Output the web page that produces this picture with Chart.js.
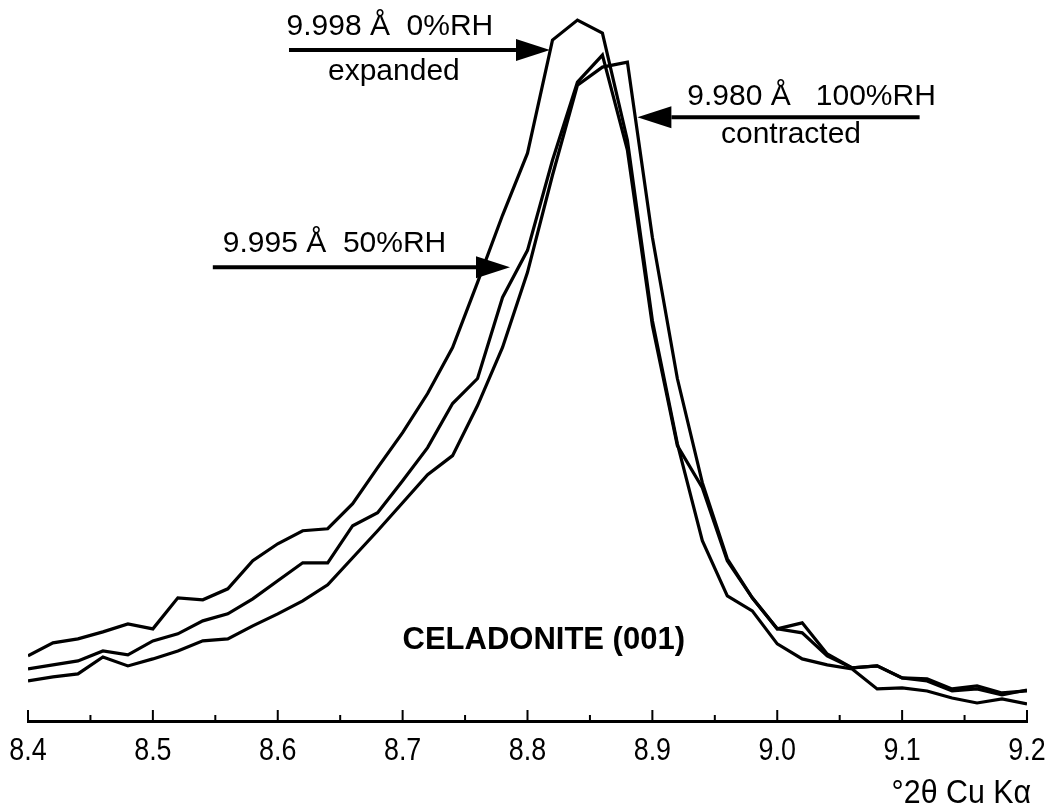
<!doctype html>
<html>
  <head>
    <title>Celadonite (001)</title>
    <script src="https://cdn.jsdelivr.net/npm/chart.js@4/dist/chart.umd.min.js"></script>
    <style>
      body { margin: 0; background: #fff; }
    </style>
  </head>
  <body>
    <canvas id="xrdChart" width="1047" height="807"></canvas>
    <script>
      // degrees 2-theta, one step every 0.02
      var two_theta = [
        8.40, 8.42, 8.44, 8.46, 8.48, 8.50, 8.52, 8.54, 8.56, 8.58,
        8.60, 8.62, 8.64, 8.66, 8.68, 8.70, 8.72, 8.74, 8.76, 8.78,
        8.80, 8.82, 8.84, 8.86, 8.88, 8.90, 8.92, 8.94, 8.96, 8.98,
        9.00, 9.02, 9.04, 9.06, 9.08, 9.10, 9.12, 9.14, 9.16, 9.18, 9.20,
      ];

      // intensities (arbitrary units)
      var rh0 = [
        65, 78, 82, 89, 97, 92, 123, 121, 132, 160,
        177, 190, 192, 217, 253, 288, 327, 373, 438, 505,
        567, 680, 700, 687, 580, 400, 277, 180, 125, 110,
        77, 62, 56, 52, 32, 33, 30, 23, 18, 22, 17,
      ];
      var rh50 = [
        52, 56, 60, 70, 66, 80, 87, 100, 107, 122,
        140, 158, 158, 195, 208, 240, 273, 317, 342, 423,
        470, 560, 638, 665, 570, 395, 275, 233, 160, 123,
        92, 98, 67, 53, 55, 43, 42, 32, 35, 28, 30,
      ];
      var rh100 = [
        40, 44, 47, 64, 55, 62, 70, 80, 82, 95,
        107, 120, 136, 163, 190, 218, 246, 265, 315, 373,
        448, 545, 635, 653, 658, 483, 342, 238, 162, 123,
        92, 88, 65, 53, 55, 43, 40, 30, 32, 26, 31,
      ];

      var x_ticks = [8.4, 8.5, 8.6, 8.7, 8.8, 8.9, 9.0, 9.1, 9.2];
      var x_title = "\u00b02\u03b8 Cu K\u03b1";

      var text_font = "'Liberation Sans', Arial, sans-serif";

      function to_points(values) {
        return values.map(function (v, i) {
          return { x: two_theta[i], y: v };
        });
      }

      function line_set(label, values) {
        return {
          label: label,
          data: to_points(values),
          borderColor: "#000",
          borderWidth: 3.2,
          pointRadius: 0,
          tension: 0,
          fill: false,
        };
      }

      function draw_arrow(ctx, x0, x1, y) {
        var dir = x1 > x0 ? 1 : -1;
        var head = 34;
        ctx.lineWidth = 4;
        ctx.beginPath();
        ctx.moveTo(x0, y);
        ctx.lineTo(x1 - dir * head, y);
        ctx.stroke();
        ctx.beginPath();
        ctx.moveTo(x1, y);
        ctx.lineTo(x1 - dir * head, y - 11);
        ctx.lineTo(x1 - dir * head, y + 11);
        ctx.closePath();
        ctx.fill();
      }

      // the axis text in the original is a narrow face, squeeze it a bit
      function narrow_text(ctx, str, x, y, align, squeeze) {
        ctx.save();
        ctx.translate(x, y);
        ctx.scale(squeeze, 1);
        ctx.textAlign = align;
        ctx.fillText(str, 0, 0);
        ctx.restore();
      }

      var annotations = {
        id: "annotations",
        afterDraw: function (chart) {
          var ctx = chart.ctx;
          var xs = chart.scales.x;
          var ys = chart.scales.y;
          var bottom = chart.chartArea.bottom;
          ctx.save();
          ctx.strokeStyle = "#000";
          ctx.fillStyle = "#000";

          // tick marks point up from the axis, minor ones half way between labels
          ctx.lineWidth = 2;
          xs.ticks.forEach(function (t, i) {
            var px = xs.getPixelForTick(i);
            ctx.beginPath();
            ctx.moveTo(px, bottom);
            ctx.lineTo(px, bottom - 11);
            ctx.stroke();
            if (i < xs.ticks.length - 1) {
              var mx = xs.getPixelForValue((t.value + xs.ticks[i + 1].value) / 2);
              ctx.beginPath();
              ctx.moveTo(mx, bottom);
              ctx.lineTo(mx, bottom - 6);
              ctx.stroke();
            }
          });

          // tick labels and axis title
          ctx.font = "32px " + text_font;
          ctx.textBaseline = "alphabetic";
          xs.ticks.forEach(function (t, i) {
            narrow_text(ctx, t.value.toFixed(1), xs.getPixelForTick(i), bottom + 39, "center", 0.84);
          });
          ctx.font = "33px " + text_font;
          narrow_text(ctx, x_title, xs.right + 4, bottom + 82, "right", 0.92);

          // arrows, placed in data units
          draw_arrow(ctx, xs.getPixelForValue(8.609), xs.getPixelForValue(8.818), ys.getPixelForValue(670));
          draw_arrow(ctx, xs.getPixelForValue(8.548), xs.getPixelForValue(8.786), ys.getPixelForValue(453));
          draw_arrow(ctx, xs.getPixelForValue(9.114), xs.getPixelForValue(8.888), ys.getPixelForValue(603));

          ctx.font = "30px " + text_font;
          ctx.textAlign = "left";
          ctx.fillText("9.998 \u00c5  0%RH", xs.getPixelForValue(8.607), ys.getPixelForValue(685));
          ctx.fillText("9.995 \u00c5  50%RH", xs.getPixelForValue(8.556), ys.getPixelForValue(468));
          ctx.fillText("9.980 \u00c5   100%RH", xs.getPixelForValue(8.928), ys.getPixelForValue(615));
          ctx.textAlign = "center";
          ctx.fillText("expanded", xs.getPixelForValue(8.693), ys.getPixelForValue(640));
          ctx.fillText("contracted", xs.getPixelForValue(9.011), ys.getPixelForValue(577));

          ctx.font = "bold 31px " + text_font;
          ctx.fillText("CELADONITE (001)", xs.getPixelForValue(8.813), ys.getPixelForValue(72));
          ctx.restore();
        },
      };

      var ctx = document.getElementById("xrdChart").getContext("2d");
      var xrdChart = new Chart(ctx, {
        type: "line",
        data: {
          datasets: [
            line_set("0%RH", rh0),
            line_set("50%RH", rh50),
            line_set("100%RH", rh100),
          ],
        },
        options: {
          responsive: false,
          animation: false,
          devicePixelRatio: 1,
          layout: { padding: { left: 28, right: 20, top: 0, bottom: 0 } },
          plugins: {
            legend: { display: false },
            tooltip: { enabled: false },
          },
          scales: {
            x: {
              type: "linear",
              min: 8.4,
              max: 9.2,
              afterBuildTicks: function (scale) {
                scale.ticks = x_ticks.map(function (v) {
                  return { value: v };
                });
              },
              afterFit: function (scale) {
                scale.height = 86;
                scale.paddingLeft = 0;
                scale.paddingRight = 0;
              },
              ticks: { display: false },
              grid: { display: true, drawOnChartArea: false, drawTicks: false },
              border: { display: true, color: "#000", width: 3 },
            },
            y: {
              display: false,
              min: 0,
              max: 720,
            },
          },
        },
        plugins: [annotations],
      });
    </script>
  </body>
</html>
